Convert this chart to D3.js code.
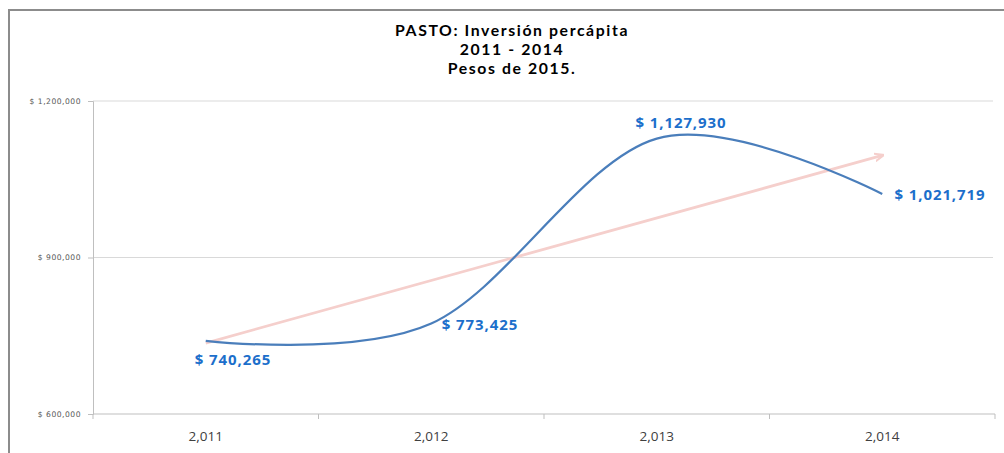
<!DOCTYPE html>
<html><head><meta charset="utf-8">
<script src="https://cdn.jsdelivr.net/npm/d3@7"></script>
<style>body{margin:0;background:#fff}svg{display:block}</style>
</head><body>
<svg id="c" width="1004" height="453"></svg>
<script>
const years = ["2,011", "2,012", "2,013", "2,014"];
const values = [740265, 773425, 1127930, 1021719];
const labels = ["$ 740,265", "$ 773,425", "$ 1,127,930", "$ 1,021,719"];
const yTicks = [600000, 900000, 1200000];
const titleLines = ["PASTO: Inversión percápita", "2011 - 2014", "Pesos de 2015."];

const svg = d3.select("#c");
const L = 93, R = 995, T = 101, B = 414;

// outer frame
svg.append("path").attr("d", "M9,453 V10 H1004").attr("fill", "none")
  .attr("stroke", "#8c8c8c").attr("stroke-width", 2);

const x = d3.scaleBand().domain(years).range([L, R]);
const y = d3.scaleLinear().domain([600000, 1200000]).range([B, T]);

// gridlines
svg.append("g").selectAll("line").data(yTicks.slice(1)).join("line")
  .attr("x1", L).attr("x2", 993).attr("y1", d => y(d)).attr("y2", d => y(d))
  .attr("stroke", "#d9d9d9").attr("stroke-width", 1);

// y axis
const ya = svg.append("g").attr("transform", `translate(${L},0)`)
  .call(d3.axisLeft(y).tickValues(yTicks).tickSize(5).tickPadding(7)
    .tickFormat(d => "$ " + d3.format(",")(d)));
ya.select(".domain").attr("stroke", "#bfbfbf");
ya.selectAll(".tick line").attr("stroke", "#bfbfbf");
ya.selectAll("text").attr("font-family", "DejaVu Sans").attr("font-size", 7.6)
  .attr("letter-spacing", 0.5).attr("fill", "#595959");

// x axis
const xa = svg.append("g").attr("transform", `translate(0,${B})`)
  .call(d3.axisBottom(x).tickSize(0).tickPadding(17));
xa.select(".domain").attr("stroke", "#bfbfbf").attr("d", `M${L},0H${R}`);
xa.selectAll("text").attr("font-family", "Open Sans").attr("font-size", 13.5)
  .attr("fill", "#404040").attr("letter-spacing", 0);
svg.append("g").selectAll("line").data(years.concat(["end"])).join("line")
  .attr("x1", (d, i) => L + i * x.bandwidth()).attr("x2", (d, i) => L + i * x.bandwidth())
  .attr("y1", B).attr("y2", B + 5).attr("stroke", "#bfbfbf");

const cx = i => x(years[i]) + x.bandwidth() / 2;

// trend line (linear regression)
const n = values.length, mx = (n + 1) / 2, my = d3.mean(values);
const slope = d3.sum(values, (v, i) => (i + 1 - mx) * (v - my)) / d3.sum(values, (v, i) => (i + 1 - mx) ** 2);
const t0 = my + slope * (1 - mx), t1 = my + slope * (n - mx);
const defs = svg.append("defs");
defs.append("marker").attr("id", "arr").attr("viewBox", "0 0 10 10").attr("refX", 8).attr("refY", 5)
  .attr("markerWidth", 3.5).attr("markerHeight", 3.5).attr("orient", "auto")
  .append("path").attr("d", "M0,1 L10,5 L0,9").attr("fill", "none").attr("stroke", "#f5cfcc").attr("stroke-width", 2);
svg.append("line").attr("x1", cx(0)).attr("y1", y(t0)).attr("x2", cx(n - 1)).attr("y2", y(t1))
  .attr("stroke", "#f5cfcc").attr("stroke-width", 2.8).attr("marker-end", "url(#arr)");

// smoothed line
const line = d3.line().x((d, i) => cx(i)).y(d => y(d)).curve(d3.curveCardinal.tension(0));
svg.append("path").datum(values).attr("d", line).attr("fill", "none")
  .attr("stroke", "#4a7ebb").attr("stroke-width", 2.2);

// data labels
const lp = [[233, 365], [480, 330], [681, 128], [940, 200]];
svg.append("g").selectAll("text").data(labels).join("text")
  .attr("x", (d, i) => lp[i][0]).attr("y", (d, i) => lp[i][1])
  .attr("text-anchor", "middle").attr("font-family", "Open Sans").attr("font-weight", "bold")
  .attr("font-size", 15).attr("letter-spacing", 0.9).attr("fill", "#1c6fcb").text(d => d);

// title
svg.append("g").selectAll("text").data(titleLines).join("text")
  .attr("x", 512).attr("y", (d, i) => 36 + i * 18.8).attr("text-anchor", "middle")
  .attr("font-family", "Lato").attr("font-weight", "bold").attr("font-size", 15.8)
  .attr("letter-spacing", 1.6).attr("fill", "#000").text(d => d);
</script>
</body></html>
